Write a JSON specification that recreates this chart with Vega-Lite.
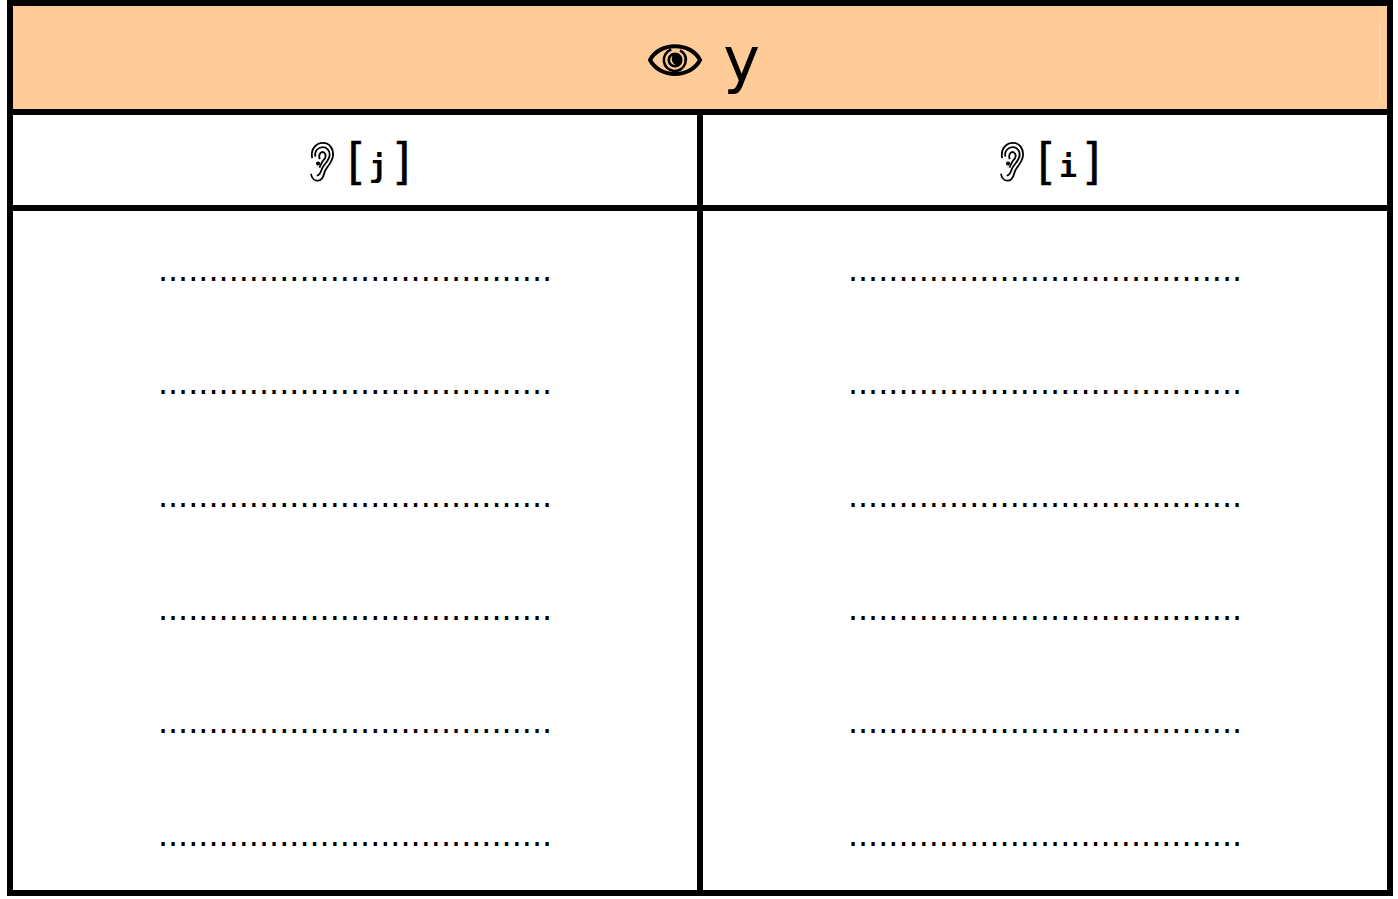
{"$schema":"https://vega.github.io/schema/vega-lite/v6.json","width":1398,"height":899,"padding":0,"autosize":"none","background":"white","config":{"view":{"stroke":null}},"datasets":{"rows":[{"col":0.5,"row":1},{"col":0.5,"row":2},{"col":0.5,"row":3},{"col":0.5,"row":4},{"col":0.5,"row":5},{"col":0.5,"row":6},{"col":1.5,"row":1},{"col":1.5,"row":2},{"col":1.5,"row":3},{"col":1.5,"row":4},{"col":1.5,"row":5},{"col":1.5,"row":6}],"ears":[{"col":0.4522,"row":-0.018},{"col":1.4522,"row":-0.018}],"phon":[{"col":0.5333,"label":"j"},{"col":1.5333,"label":"i"}],"br":[{"col":0.4993,"label":"["},{"col":0.5696,"label":"]"},{"col":1.4993,"label":"["},{"col":1.5696,"label":"]"}]},"layer":[{"data":{"values":[{"c0":0,"c1":2,"r0":-1.425,"r1":-0.46}]},"mark":{"type":"rect","fill":"#ffcc99"},"encoding":{"x":{"field":"c0","type":"quantitative","scale":{"domain":[-0.01449,2.01159],"range":[0,1398]},"axis":null},"x2":{"field":"c1"},"y":{"field":"r0","type":"quantitative","scale":{"domain":[-1.4513,6.5044],"range":[0,899]},"axis":null},"y2":{"field":"r1"}}},{"data":{"values":[{"c":1.9855,"r0":-1.239,"r1":-0.584}]},"mark":{"type":"rule","stroke":"#ffd9b3","strokeWidth":1.5},"encoding":{"x":{"field":"c","type":"quantitative","scale":{"domain":[-0.01449,2.01159],"range":[0,1398]},"axis":null},"y":{"field":"r0","type":"quantitative","scale":{"domain":[-1.4513,6.5044],"range":[0,899]},"axis":null},"y2":{"field":"r1"}}},{"data":{"values":[{"c0":0,"c1":2,"r":-0.46},{"c0":0,"c1":2,"r":0.389}]},"mark":{"type":"rule","stroke":"black","strokeWidth":6},"encoding":{"x":{"field":"c0","type":"quantitative","scale":{"domain":[-0.01449,2.01159],"range":[0,1398]},"axis":null},"x2":{"field":"c1"},"y":{"field":"r","type":"quantitative","scale":{"domain":[-1.4513,6.5044],"range":[0,899]},"axis":null}}},{"data":{"values":[{"c":1,"r0":-0.46,"r1":6.451}]},"mark":{"type":"rule","stroke":"black","strokeWidth":6},"encoding":{"x":{"field":"c","type":"quantitative","scale":{"domain":[-0.01449,2.01159],"range":[0,1398]},"axis":null},"y":{"field":"r0","type":"quantitative","scale":{"domain":[-1.4513,6.5044],"range":[0,899]},"axis":null},"y2":{"field":"r1"}}},{"data":{"values":[{"c0":0,"c1":2,"r0":-1.425,"r1":6.451}]},"mark":{"type":"rect","fill":null,"stroke":"black","strokeWidth":6},"encoding":{"x":{"field":"c0","type":"quantitative","scale":{"domain":[-0.01449,2.01159],"range":[0,1398]},"axis":null},"x2":{"field":"c1"},"y":{"field":"r0","type":"quantitative","scale":{"domain":[-1.4513,6.5044],"range":[0,899]},"axis":null},"y2":{"field":"r1"}}},{"data":{"values":[{"col":1.0601,"row":-0.743,"label":"y"}]},"mark":{"type":"text","font":"DejaVu Sans","fontSize":62,"baseline":"alphabetic","align":"center","fill":"black","dy":1},"encoding":{"x":{"field":"col","type":"quantitative","scale":{"domain":[-0.01449,2.01159],"range":[0,1398]},"axis":null},"y":{"field":"row","type":"quantitative","scale":{"domain":[-1.4513,6.5044],"range":[0,899]},"axis":null},"text":{"field":"label"}}},{"data":{"values":[{"col":0.9638,"row":-0.92}]},"mark":{"type":"point","filled":false,"stroke":"black","strokeWidth":4,"opacity":1,"size":2500,"shape":"M-1,0C-0.62,-0.74 0.62,-0.74 1,0C0.62,0.74 -0.62,0.74 -1,0Z"},"encoding":{"x":{"field":"col","type":"quantitative","scale":{"domain":[-0.01449,2.01159],"range":[0,1398]},"axis":null},"y":{"field":"row","type":"quantitative","scale":{"domain":[-1.4513,6.5044],"range":[0,899]},"axis":null}}},{"data":{"values":[{"col":0.9638,"row":-0.92}]},"mark":{"type":"point","filled":false,"stroke":"black","strokeWidth":2.6,"opacity":1,"size":2500,"shape":"M-0.15,-0.42A0.44,0.44 0 1 0 0.2,-0.39M0.28,-0.33A0.44,0.44 0 0 1 0.44,0"},"encoding":{"x":{"field":"col","type":"quantitative","scale":{"domain":[-0.01449,2.01159],"range":[0,1398]},"axis":null},"y":{"field":"row","type":"quantitative","scale":{"domain":[-1.4513,6.5044],"range":[0,899]},"axis":null}}},{"data":{"values":[{"col":0.9638,"row":-0.92}]},"mark":{"type":"point","filled":true,"fill":"black","opacity":1,"strokeWidth":0,"size":2500,"shape":"M-0.3,0A0.3,0.3 0 1 1 0.3,0A0.3,0.3 0 1 1 -0.3,0ZM-0.1,-0.17A0.2,0.2 0 0 0 0.02,0.2A0.28,0.28 0 0 1 -0.1,-0.17Z"},"encoding":{"x":{"field":"col","type":"quantitative","scale":{"domain":[-0.01449,2.01159],"range":[0,1398]},"axis":null},"y":{"field":"row","type":"quantitative","scale":{"domain":[-1.4513,6.5044],"range":[0,899]},"axis":null}}},{"data":{"name":"ears"},"mark":{"type":"point","filled":false,"stroke":"black","strokeWidth":1.8,"opacity":1,"size":1444,"shape":"M-0.52,-0.2C-0.62,-0.75 -0.25,-1 0.05,-1C0.4,-1 0.6,-0.7 0.58,-0.35C0.56,0 0.3,0.2 0.17,0.45C0.08,0.62 0.1,0.95 -0.2,0.98C-0.4,1 -0.55,0.85 -0.58,0.62M-0.35,-0.28C-0.42,-0.58 -0.2,-0.78 0.05,-0.78C0.28,-0.78 0.42,-0.55 0.4,-0.35C0.38,-0.08 0.12,0.1 0,0.35C-0.06,0.5 -0.1,0.7 -0.28,0.72M-0.12,-0.15C-0.22,-0.42 -0.02,-0.58 0.1,-0.5C0.25,-0.4 0.2,-0.2 0.08,-0.1C0,-0.03 -0.06,0.15 -0.14,0.3"},"encoding":{"x":{"field":"col","type":"quantitative","scale":{"domain":[-0.01449,2.01159],"range":[0,1398]},"axis":null},"y":{"field":"row","type":"quantitative","scale":{"domain":[-1.4513,6.5044],"range":[0,899]},"axis":null}}},{"data":{"name":"ears"},"mark":{"type":"point","filled":true,"fill":"black","opacity":1,"strokeWidth":0,"size":1444,"shape":"M-0.32,0.08A0.11,0.11 0 1 0 -0.1,0.08A0.11,0.11 0 1 0 -0.32,0.08Z"},"encoding":{"x":{"field":"col","type":"quantitative","scale":{"domain":[-0.01449,2.01159],"range":[0,1398]},"axis":null},"y":{"field":"row","type":"quantitative","scale":{"domain":[-1.4513,6.5044],"range":[0,899]},"axis":null}}},{"data":{"name":"br"},"mark":{"type":"text","font":"Liberation Sans","fontSize":46,"baseline":"alphabetic","align":"center","fill":"black","stroke":"black","strokeWidth":0.7,"dy":11},"encoding":{"x":{"field":"col","type":"quantitative","scale":{"domain":[-0.01449,2.01159],"range":[0,1398]},"axis":null},"y":{"datum":0,"type":"quantitative","scale":{"domain":[-1.4513,6.5044],"range":[0,899]},"axis":null},"text":{"field":"label"}}},{"data":{"name":"phon"},"mark":{"type":"text","font":"DejaVu Sans Mono","fontWeight":"bold","fontSize":30,"baseline":"alphabetic","align":"center","fill":"black","dy":11},"encoding":{"x":{"field":"col","type":"quantitative","scale":{"domain":[-0.01449,2.01159],"range":[0,1398]},"axis":null},"y":{"datum":0.02,"type":"quantitative","scale":{"domain":[-1.4513,6.5044],"range":[0,899]},"axis":null},"text":{"field":"label"}}},{"data":{"name":"rows"},"mark":{"type":"text","font":"DejaVu Sans","fontSize":31.8,"baseline":"alphabetic","align":"center","fill":"black","dy":4,"text":"......................................."},"encoding":{"x":{"field":"col","type":"quantitative","scale":{"domain":[-0.01449,2.01159],"range":[0,1398]},"axis":null},"y":{"field":"row","type":"quantitative","scale":{"domain":[-1.4513,6.5044],"range":[0,899]},"axis":null}}}]}
